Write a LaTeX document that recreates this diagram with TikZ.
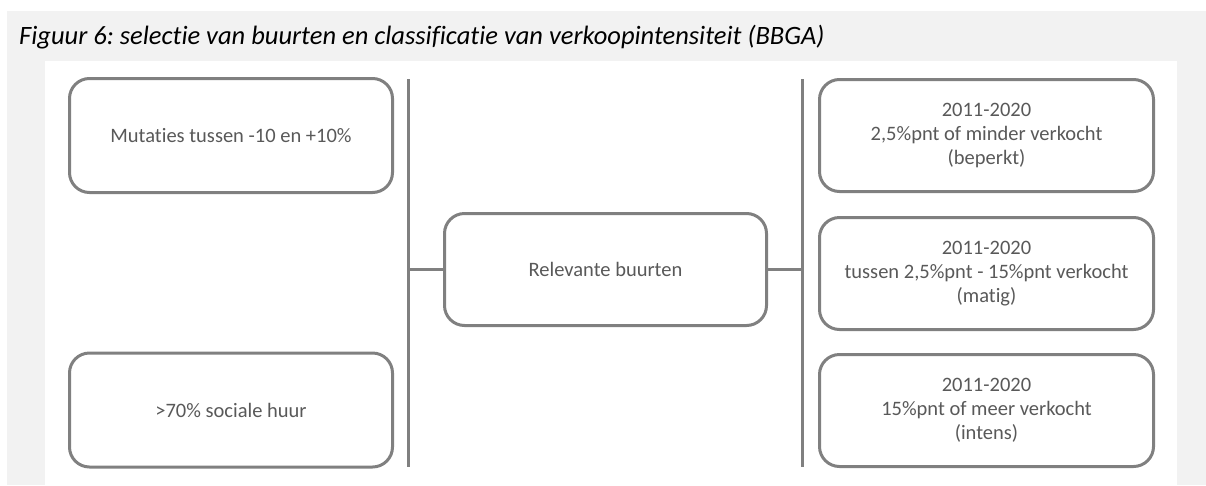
\documentclass[tikz,border=0pt]{standalone}
\usepackage{fontspec}
\setmainfont{Carlito}[Ligatures=NoCommon]
\usepackage{tikz}
\frenchspacing

\definecolor{panelgray}{RGB}{242,242,242}
\definecolor{boxline}{RGB}{128,128,128}
\definecolor{boxtext}{RGB}{89,89,89}

\begin{document}
\begin{tikzpicture}[x=1pt,y=-1pt,
    box/.style={draw=boxline,line width=3pt,rounded corners=20pt,fill=white,
        text=boxtext,align=center,inner sep=0pt,
        font=\fontsize{20.5}{24}\selectfont},
    bar/.style={draw=boxline,line width=3pt}]
    	        \fill[white] (0,0) rectangle (1206,485);
    	        \fill[panelgray] (7,11) rectangle (1206,485);
    	        \fill[white] (45,61) rectangle (1177,485);
    	        \node[anchor=base west,inner sep=0pt,font=\fontsize{26.5}{30}\selectfont\itshape] at (19,44) (title) {Figuur 6: selectie van buurten en classificatie van verkoopintensiteit (BBGA)};
    	        
    	        \node[box,minimum width=323pt,minimum height=114pt] at (231,135.5) (mut) {Mutaties tussen -10 en +10\%};
    	        \node[box,minimum width=323pt,minimum height=114pt] at (231,410) (soc) {>70\% sociale huur};
    	        \node[box,minimum width=322pt,minimum height=112pt] at (605.5,269.5) (rel) {Relevante buurten};
    	        \node[box,minimum width=334pt,minimum height=112pt] at (986.5,135.5) (bep) {2011-2020\\2,5\%pnt of minder verkocht\\(beperkt)};
    	        \node[box,minimum width=334pt,minimum height=112pt] at (986.5,273.5) (mat) {2011-2020\\tussen 2,5\%pnt - 15\%pnt verkocht\\(matig)};
    	        \node[box,minimum width=334pt,minimum height=112pt] at (986.5,410.5) (int) {2011-2020\\15\%pnt of meer verkocht\\(intens)};
    	        
    	        \coordinate (lt) at (408,79);
    	        \coordinate (lb) at (408,467);
    	        \coordinate (rt) at (802,79);
    	        \coordinate (rb) at (802,467);
    	        
    	        \draw[bar] (lt) -- (lb);
    	        \draw[bar] (rt) -- (rb);
    	        \draw[bar] (rel.west) -- (rel.west -| lt);
    	        \draw[bar] (rel.east) -- (rel.east -| rt);
    	    \end{tikzpicture}
\end{document}
